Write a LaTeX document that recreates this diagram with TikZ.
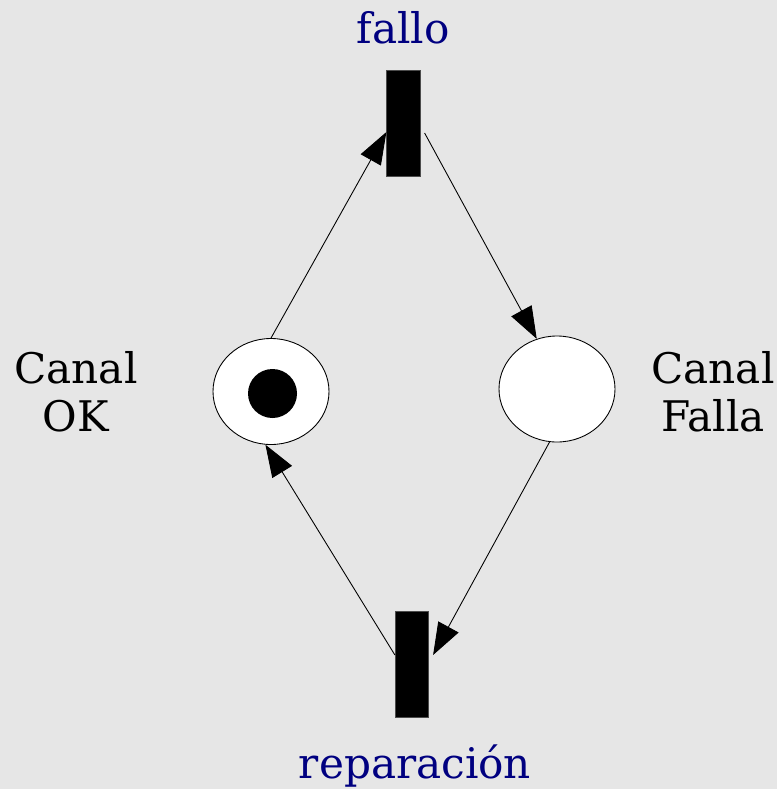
\documentclass[tikz,border=0pt]{standalone}
\usepackage{fontspec}
\setmainfont{DejaVu Serif}
\usetikzlibrary{shapes.geometric,arrows.meta}
\definecolor{fondo}{RGB}{230,230,230}
\definecolor{azulmarino}{RGB}{0,0,128}

\begin{document}
\begin{tikzpicture}[x=0.2mm,y=-0.2mm,
  place/.style={ellipse,draw,fill=white,line width=0.5pt,minimum width=2.32cm,minimum height=2.12cm,inner sep=0pt},
  transition/.style={rectangle,draw=black!70,fill=black,line width=0.4pt,minimum width=0.67cm,minimum height=2.12cm,inner sep=0pt},
  token/.style={circle,fill=black,minimum size=0.98cm,inner sep=0pt},
  arc/.style={line width=0.5pt,-{Triangle[length=0.64cm,width=0.46cm]}},
  etiq/.style={font=\fontsize{24}{27.3}\selectfont,inner sep=0pt}]
  % Fondo gris
  \useasboundingbox (0,0) rectangle (777,789);
  \fill[fondo] (0,0) rectangle (777,789);
  % Transiciones
  \node[transition] (fallo) at (403.5,123) {};
  \node[transition] (reparacion) at (412,664) {};
  % Lugares (con una marca en Canal OK)
  \node[place] (ok) at (271,391.5) {};
  \node[place] (falla) at (557,389) {};
  \node[token] (marca) at (272.5,393.5) {};
  % Arcos
  \draw[arc] (ok.north) -- ([yshift=-0.18cm]fallo.west);
  \draw[arc] ([xshift=0.08cm,yshift=-0.2cm]fallo.east) -- (falla.112);
  \draw[arc] (falla.262) -- ([xshift=0.08cm,yshift=0.18cm]reparacion.east);
  \draw[arc] ([yshift=0.18cm]reparacion.west) -- (ok.264);
  % Etiquetas
  \node[etiq,text=azulmarino,anchor=base] (tfallo) at (403,43) {fallo};
  \node[etiq,text=azulmarino,anchor=base] (treparacion) at (415,778) {reparación};
  \node[etiq,align=center] (tok) at (76,392) {Canal\\OK};
  \node[etiq,align=center] (tfalla) at (713,392) {Canal\\Falla};
\end{tikzpicture}
\end{document}
